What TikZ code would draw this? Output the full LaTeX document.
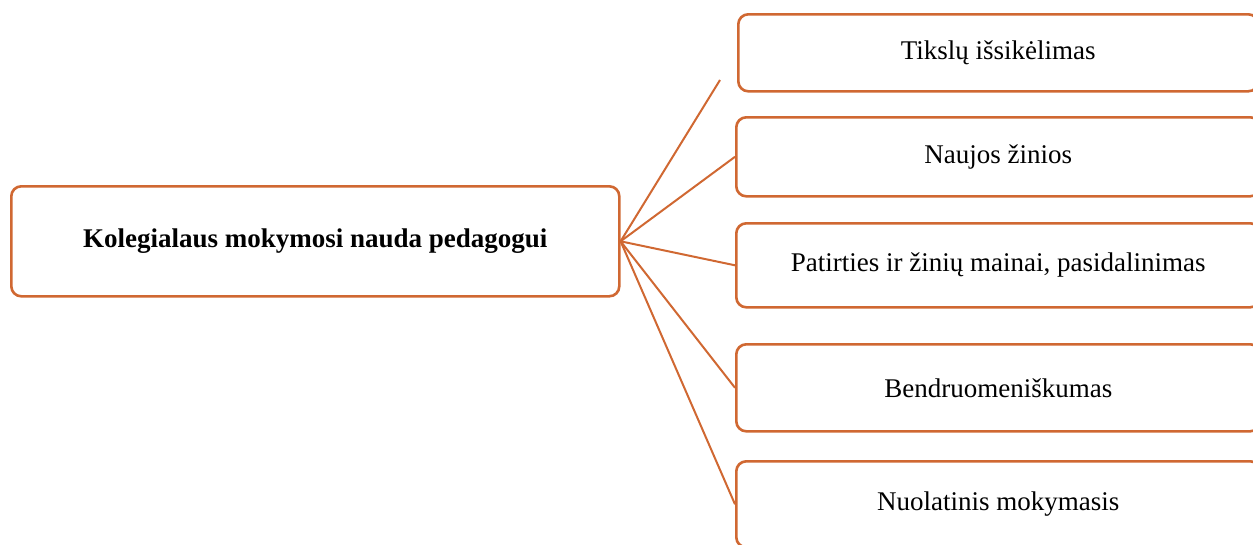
\documentclass[tikz,border=0pt]{standalone}
\usepackage{fontspec}
\setmainfont{Liberation Serif}
\definecolor{orng}{RGB}{208,104,50}
\begin{document}
\begin{tikzpicture}[x=1pt,y=-1pt,
  box/.style={draw=orng,line width=2.6pt,rounded corners=10pt,fill=white,
    anchor=north west,inner sep=0pt,align=center,
    font=\fontsize{27}{32}\selectfont},
  link/.style={draw=orng,line width=2pt}]
\useasboundingbox (0,0) rectangle (1253,544);
\clip (0,0) rectangle (1253,544);
\node[box,minimum width=608pt,minimum height=110pt,font=\fontsize{27}{32}\selectfont\bfseries] (L) at (10,185) {Kolegialaus mokymosi nauda pedagogui};
\node[box,minimum width=520pt,minimum height=77pt] (b1) at (737,13) {Tikslų išsikėlimas};
\node[box,minimum width=524pt,minimum height=79pt] (b2) at (735,116) {Naujos žinios};
\node[box,minimum width=524pt,minimum height=84pt] (b3) at (735,222) {Patirties ir žinių mainai, pasidalinimas};
\node[box,minimum width=524pt,minimum height=87pt] (b4) at (735,343) {Bendruomeniškumas};
\node[box,minimum width=524pt,minimum height=86pt] (b5) at (735,460) {Nuolatinis mokymasis};
\coordinate (e1) at (720,80);
\draw[link] (L.east) -- (e1);
\draw[link] (L.east) -- (b2.west);
\draw[link] (L.east) -- (b3.west);
\draw[link] (L.east) -- (b4.west);
\draw[link] (L.east) -- (b5.west);
\end{tikzpicture}
\end{document}
